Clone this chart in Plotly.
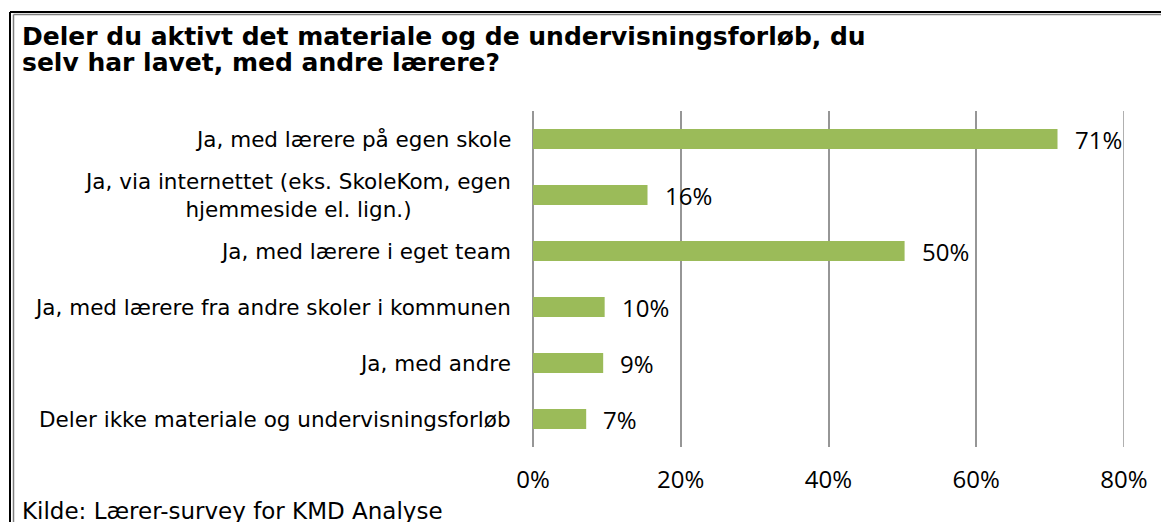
import plotly.graph_objects as go

categories = [
    "Ja, med lærere på egen skole",
    "Ja, via internettet (eks. SkoleKom, egen<br>hjemmeside el. lign.)",
    "Ja, med lærere i eget team",
    "Ja, med lærere fra andre skoler i kommunen",
    "Ja, med andre",
    "Deler ikke materiale og undervisningsforløb",
]
values = [0.71, 0.155, 0.503, 0.097, 0.095, 0.072]
value_labels = ["71%", "16%", "50%", "10%", "9%", "7%"]
tick_vals = [0, 0.2, 0.4, 0.6, 0.8]
tick_text = ["0%", "20%", "40%", "60%", "80%"]
title_lines = ["Deler du aktivt det materiale og de undervisningsforløb, du",
               "selv har lavet, med andre lærere?"]
source_text = "Kilde: Lærer-survey for KMD Analyse"

# page body has an 8px margin; compensate so the figure fills the window
OFF = 8
W, H = 1169 - OFF, 522 - OFF
L, R, T, B = 533 - OFF, 45, 111 - OFF, 75
PW, PH = W - L - R, H - T - B

def px_x(px):
    return (px - OFF - L) / PW

def px_y(py):
    return (H - B - (py - OFF)) / PH

fig = go.Figure()
fig.add_trace(go.Bar(
    y=categories, x=values, orientation="h",
    marker=dict(color="#9BBB59", line=dict(width=0)),
    width=0.36, hoverinfo="skip",
))

lab_font = dict(family="DejaVu Sans, Verdana, sans-serif", size=21.5, color="#000000")
num_font = dict(family="Open Sans, sans-serif", size=24, color="#000000")
title_font = dict(family="DejaVu Sans, Verdana, sans-serif", size=25, color="#000000")

ann = []
for c in categories:
    ann.append(dict(x=0, y=c, xref="x", yref="y", text=c, showarrow=False,
                    xanchor="right", yanchor="middle", align="center",
                    xshift=-20, font=lab_font))
for c, v, t in zip(categories, values, value_labels):
    ann.append(dict(x=v, y=c, xref="x", yref="y", text=t, showarrow=False,
                    xanchor="left", yanchor="middle", xshift=15, font=num_font))

for i, line in enumerate(title_lines):
    ann.append(dict(x=px_x(20), y=px_y(20 + i * 26), xref="paper", yref="paper",
                    text="<b>" + line + "</b>",
                    showarrow=False, xanchor="left", yanchor="top", align="left",
                    font=title_font))
ann.append(dict(x=px_x(20), y=px_y(496), xref="paper", yref="paper",
                text=source_text,
                showarrow=False, xanchor="left", yanchor="top", align="left",
                font=dict(family="DejaVu Sans, Verdana, sans-serif", size=23, color="#000000")))

grid = dict(color="#969696", width=1.5)
shapes = [
    dict(type="line", xref="paper", yref="paper", x0=px_x(10), x1=px_x(10), y0=px_y(12), y1=px_y(540),
         line=dict(color="#000000", width=2)),
    dict(type="line", xref="paper", yref="paper", x0=px_x(10), x1=px_x(1200), y0=px_y(12), y1=px_y(12),
         line=dict(color="#000000", width=2)),
    dict(type="line", xref="paper", yref="paper", x0=px_x(13.5), x1=px_x(13.5), y0=px_y(14.5), y1=px_y(540),
         line=dict(color="#808080", width=1.5)),
    dict(type="line", xref="paper", yref="paper", x0=px_x(13.5), x1=px_x(1200), y0=px_y(14.5), y1=px_y(14.5),
         line=dict(color="#808080", width=1.5)),
    dict(type="line", xref="x", yref="paper", x0=tick_vals[-1], x1=tick_vals[-1], y0=0, y1=1,
         line=grid, layer="below"),
]

fig.update_layout(
    width=W, height=H,
    margin=dict(l=L, r=R, t=T, b=B, pad=0),
    paper_bgcolor="white", plot_bgcolor="white",
    showlegend=False,
    annotations=ann,
    shapes=shapes,
    xaxis=dict(range=[0, 0.8], tickvals=tick_vals, ticktext=tick_text,
               showgrid=True, gridcolor="#969696", gridwidth=1.5,
               zeroline=True, zerolinecolor="#969696", zerolinewidth=1.5,
               showline=False, ticks="outside", ticklen=11, tickcolor="rgba(0,0,0,0)",
               tickfont=num_font, fixedrange=True),
    yaxis=dict(autorange="reversed", showticklabels=False, showgrid=False,
               zeroline=False, showline=False, fixedrange=True),
)

fig.write_html("out.html")
